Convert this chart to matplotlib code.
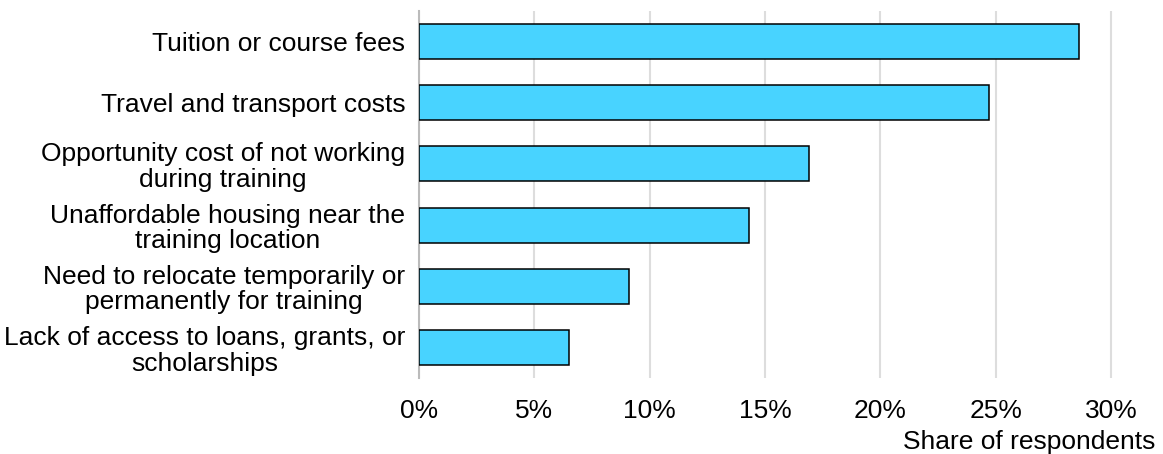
import matplotlib.pyplot as plt
from matplotlib.ticker import FuncFormatter

plt.rcParams['font.family'] = ['Liberation Sans', 'DejaVu Sans']

categories = [
    'Tuition or course fees',
    'Travel and transport costs',
    'Opportunity cost of not working\nduring training',
    'Unaffordable housing near the\ntraining location',
    'Need to relocate temporarily or\npermanently for training',
    'Lack of access to loans, grants, or\nscholarships',
]
shares = [28.6, 24.7, 16.9, 14.3, 9.1, 6.5]

fig = plt.figure(figsize=(11.63, 4.54), dpi=100)
ax = fig.add_axes([0.3603, 0.167, 0.9931 - 0.3603, 0.976 - 0.167])

ax.barh(range(len(categories)), shares, height=0.57, color='#48D3FF',
        edgecolor='black', linewidth=1.1, zorder=3)

ax.set_ylim(len(categories) - 0.5, -0.5)
ax.set_xlim(0, 31.9)
ax.set_xticks([0, 5, 10, 15, 20, 25, 30])
ax.xaxis.set_major_formatter(FuncFormatter(lambda v, p: f'{v:.0f}%'))
ax.set_yticks(range(len(categories)))
ax.set_yticklabels(categories, fontsize=19, linespacing=1.08, multialignment='center')
ax.tick_params(axis='x', length=0, pad=15, labelsize=19)
ax.tick_params(axis='y', length=0, pad=10)

ax.grid(axis='x', color='#dddddd', linewidth=1.5, zorder=0)
for s in ['top', 'right', 'bottom']:
    ax.spines[s].set_visible(False)
ax.spines['left'].set_color('#bbbbbb')
ax.spines['left'].set_linewidth(1.5)

ax.set_xlabel('Share of respondents', fontsize=19, ha='right')
ax.xaxis.set_label_coords(1.0, -0.14)

fig.savefig('out.png')
